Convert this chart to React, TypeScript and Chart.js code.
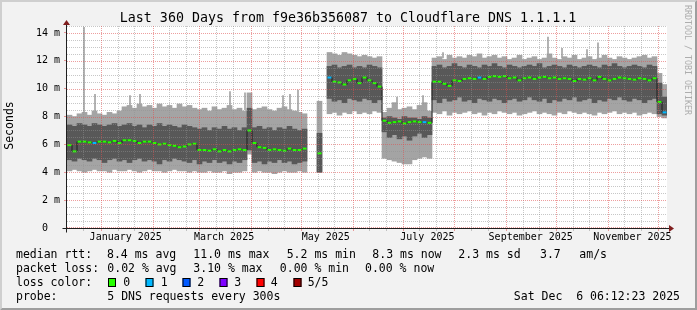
import React, { useEffect, useRef } from "react";
import { Chart, registerables } from "chart.js";

Chart.register(...registerables);

// ---------------- data ----------------
const BIN_DAYS = 3; // each bin spans 3 days, 120 bins over 360 days

// lowest ping (outer smoke, lower edge)
const outerLow = [
  4.1, 4.2, 4.1, 4.0, 4.1, 4.2, 4.1, 4.1, 4.0, 4.2, 4.1, 4.1, 4.2,
  4.1, 4.0, 4.1, 4.2, 4.1, 4.1, 4.0, 4.1, 4.2, 4.1, 4.1, 4.0, 4.1,
  4.0, 4.0, 4.1, 4.0, 4.0, 4.1, 3.9, 4.0, 4.0, 4.1, 5.3,
  4.0, 4.1, 4.0, 4.0, 3.9, 4.0, 4.1, 4.0, 4.0, 4.1, 4.0,
  null, null, 4.0, null,
  8.2, 8.3, 8.1, 8.3, 8.2, 8.4, 8.2, 8.3, 8.2, 8.4, 8.3,
  5.0, 4.9, 4.8, 4.7, 4.6, 4.6, 4.9, 5.0, 5.1, 5.0,
  8.3, 8.2, 8.4, 8.1, 8.3, 8.2, 8.3, 8.4, 8.2, 8.3, 8.1, 8.3, 8.2, 8.4, 8.3,
  8.2, 8.3, 8.1, 8.2, 8.3, 8.4, 8.2, 8.3, 8.2, 8.1, 8.3, 8.2, 8.4, 8.3, 8.2,
  8.3, 8.2, 8.1, 8.3, 8.2, 8.3, 8.4, 8.2, 8.3, 8.2, 8.3, 8.1, 8.2, 8.3, 8.2,
  8.0, 7.9,
];

// second ping (inner smoke, lower edge)
const innerLow = [
  4.9, 4.8, 5.0, 4.9, 4.8, 5.0, 4.9, 4.7, 4.9, 5.0, 4.8, 4.9, 4.7,
  4.9, 5.0, 4.8, 4.9, 4.8, 4.6, 4.9, 4.8, 5.0, 4.9, 4.8, 4.7, 4.9,
  4.6, 4.8, 4.7, 4.9, 4.7, 4.8, 4.6, 4.8, 4.7, 4.9, 5.6,
  4.7, 4.8, 4.6, 4.8, 4.7, 4.9, 4.7, 4.8, 4.6, 4.7, 4.8,
  null, null, 4.0, null,
  9.3, 9.1, 9.2, 9.0, 9.3, 9.2, 9.1, 9.3, 9.2, 9.0, 9.2,
  6.9, 6.5, 6.7, 6.4, 6.6, 6.3, 6.6, 6.8, 6.5, 6.7,
  9.2, 9.0, 9.3, 9.1, 9.2, 9.4, 9.1, 9.2, 9.0, 9.3, 9.2, 9.1, 9.3, 9.2, 9.0,
  9.2, 9.3, 9.1, 9.2, 9.4, 9.2, 9.1, 9.3, 9.0, 9.2, 9.1, 9.3, 9.2, 9.4, 9.1,
  9.2, 9.3, 9.0, 9.2, 9.1, 9.3, 9.2, 9.4, 9.2, 9.1, 9.3, 9.2, 9.0, 9.2, 9.3,
  8.2, 8.1,
];

// median rtt
const medianRtt = [
  5.95, 5.5, 6.2, 6.2, 6.15, 6.1, 6.2, 6.2, 6.15, 6.25, 6.1, 6.3, 6.3,
  6.25, 6.1, 6.2, 6.2, 6.1, 6.0, 6.05, 5.95, 5.9, 5.8, 5.85, 6.0, 6.05,
  5.6, 5.6, 5.55, 5.65, 5.5, 5.6, 5.5, 5.6, 5.65, 5.6, 7.0,
  6.1, 5.8, 5.75, 5.6, 5.65, 5.6, 5.55, 5.7, 5.6, 5.6, 5.7,
  null, null, 5.36, null,
  10.8, 10.5, 10.45, 10.3, 10.6, 10.7, 10.4, 10.8, 10.6, 10.4, 10.15,
  7.7, 7.55, 7.6, 7.65, 7.5, 7.6, 7.65, 7.6, 7.6, 7.55,
  10.5, 10.5, 10.35, 10.2, 10.6, 10.55, 10.7, 10.75, 10.7, 10.8, 10.7, 10.85, 10.9, 10.85, 10.9,
  10.75, 10.8, 10.6, 10.75, 10.8, 10.7, 10.8, 10.85, 10.75, 10.8, 10.7, 10.75, 10.7, 10.55, 10.7,
  10.65, 10.75, 10.6, 10.85, 10.7, 10.6, 10.7, 10.8, 10.75, 10.7, 10.65, 10.75, 10.7, 10.6, 10.75,
  9.05, 8.3,
];

// fourth ping (inner smoke, upper edge)
const innerHigh = [
  7.4, 7.3, 7.5, 7.4, 7.3, 7.5, 7.4, 7.3, 7.4, 7.5, 7.3, 7.4, 7.5,
  7.3, 7.4, 7.2, 7.4, 7.3, 7.5, 7.3, 7.4, 7.3, 7.2, 7.4, 7.3, 7.2,
  7.1, 7.2, 7.0, 7.2, 7.1, 7.3, 7.1, 7.2, 7.0, 7.2, 8.6,
  7.2, 7.3, 7.1, 7.2, 7.0, 7.2, 7.1, 7.3, 7.1, 7.0, 7.1,
  null, null, 6.8, null,
  11.6, 11.7, 11.5, 11.6, 11.7, 11.5, 11.6, 11.5, 11.7, 11.6, 11.5,
  7.9, 8.0, 7.9, 7.8, 8.0, 7.9, 7.9, 7.8, 8.0, 7.9,
  11.6, 11.7, 11.5, 11.6, 11.8, 11.6, 11.5, 11.7, 11.6, 11.5, 11.7, 11.6, 11.8, 11.6, 11.5,
  11.7, 11.6, 11.5, 11.6, 11.7, 11.6, 11.8, 11.5, 11.6, 11.7, 11.6, 11.5, 11.7, 11.6, 11.5,
  11.6, 11.7, 11.6, 11.5, 11.7, 11.6, 11.8, 11.6, 11.5, 11.6, 11.7, 11.6, 11.5, 11.7, 11.6,
  10.4, 9.4,
];

// highest ping (outer smoke, upper edge)
const outerHigh = [
  8.1, 8.0, 8.2, 8.3, 8.1, 8.4, 8.2, 8.1, 8.3, 8.2, 8.4, 8.7, 8.8,
  8.6, 8.9, 8.7, 8.8, 8.6, 8.9, 8.7, 8.8, 8.6, 8.9, 8.7, 8.8, 8.6,
  8.5, 8.6, 8.4, 8.7, 8.5, 8.6, 8.8, 8.5, 8.6, 8.4, 9.7,
  8.5, 8.6, 8.7, 8.5, 8.4, 8.6, 8.7, 8.5, 8.4, 8.3, 8.2,
  null, null, 9.1, null,
  12.6, 12.5, 12.4, 12.6, 12.5, 12.4, 12.3, 12.4, 12.3, 12.2, 12.3,
  8.3, 8.6, 9.0, 8.5, 8.6, 8.7, 8.5, 8.8, 9.0, 8.4,
  12.2, 12.3, 12.1, 12.4, 12.2, 12.3, 12.2, 12.4, 12.3, 12.5, 12.2, 12.3, 12.4, 12.2, 12.3,
  12.1, 12.2, 12.4, 12.1, 12.2, 12.3, 12.1, 12.2, 12.5, 12.2, 12.1, 12.3, 12.2, 12.4, 12.1,
  12.2, 12.3, 12.1, 12.2, 12.4, 12.2, 12.1, 12.3, 12.2, 12.1, 12.2, 12.3, 12.4, 12.2, 12.3,
  11.1, 10.3,
];

// bins where some requests were lost (index -> number lost)
const lossBins = [5, 52, 71, 82, 119];
const lossCounts = [1, 1, 1, 1, 1];

// single-sample spikes of the highest ping (day offset from start)
const peakDays = [10.2, 16.8, 37.8, 43.8, 97.8, 106.8, 129.6, 133.8, 138.6, 198.0, 213.6, 225.6, 288.6, 297.0, 312.0, 318.6];
const peakLow = [8.0, 8.2, 8.6, 8.6, 8.5, 8.5, 8.5, 8.5, 8.3, 8.5, 8.5, 12.2, 12.2, 12.2, 12.2, 12.2];
const peakHigh = [14.4, 9.6, 9.5, 9.6, 9.8, 9.7, 9.5, 9.6, 9.9, 9.4, 9.5, 12.6, 13.7, 12.9, 12.8, 13.3];

// axis labels
const xLabelTexts = ["January 2025", "March 2025", "May 2025", "July 2025", "September 2025", "November 2025"];
const xLabelMonths = [[2025, 0], [2025, 2], [2025, 4], [2025, 6], [2025, 8], [2025, 10]];
const yMajorTicks = [0, 2, 4, 6, 8, 10, 12, 14];
const yMajorLabels = ["0  ", "2 m", "4 m", "6 m", "8 m", "10 m", "12 m", "14 m"];
const Y_MAX = 14.5;
const Y_MINOR_STEP = 0.5;

// legend
const lossLegendLabels = ["0", "1", "2", "3", "4", "5/5"];
const lossColors = ["#26ff00", "#00b8ff", "#0059ff", "#7e00ff", "#ff0000", "#a10000"];
const rttStats = ["8.4 ms avg", "11.0 ms max", "5.2 ms min", "8.3 ms now", "2.3 ms sd", "3.7", "am/s"];
const lossStats = ["0.02 % avg", "3.10 % max", "0.00 % min", "0.00 % now"];
const TITLE = "Last 360 Days from f9e36b356087 to Cloudflare DNS 1.1.1.1";
const Y_TITLE = "Seconds";
const WATERMARK = "RRDTOOL / TOBI OETIKER";
const PROBE_TEXT = "5 DNS requests every 300s";
const STAMP = "Sat Dec  6 06:12:23 2025";

// ---------------- layout / style ----------------
const W = 697;
const H = 310;
const MONO = '"DejaVu Sans Mono", "Liberation Mono", monospace';
const rttX = [107, 193.3, 286.7, 372.3, 458.3, 540, 579.3];
const lossX = [107.3, 193.3, 279.8, 365];
const boxX = [108, 145.5, 182.5, 219.5, 256.5, 293.5];
const boxLabelX = [123.3, 160.7, 197.3, 234.3, 270.7, 307.7];
const GRID_MAJOR = "rgba(222,79,79,0.55)";
const GRID_MINOR = "rgba(143,143,143,0.5)";
const NONE = "rgba(0,0,0,0)";

const START = Date.UTC(2024, 11, 11, 6, 12, 23);
const dayOf = (y: number, m: number, d: number, h = 0) => (Date.UTC(y, m, d, h) - START) / 86400000;
const binDay = (i: number) => BIN_DAYS * (i + 0.5);

function buildXTicks() {
  const t: any[] = [];
  for (let k = 0; k <= 12; k++) {
    const y = 2024 + Math.floor((11 + k) / 12);
    const m = (11 + k) % 12;
    t.push({ value: dayOf(y, m, 1), kind: "major", text: "" });
    t.push({ value: dayOf(y, m, 11), kind: "minor", text: "" });
    t.push({ value: dayOf(y, m, 21), kind: "minor", text: "" });
  }
  xLabelMonths.forEach(([y, m], i) => {
    t.push({ value: dayOf(y, m, 15, 12), kind: "label", text: xLabelTexts[i] });
  });
  return t.filter((o) => o.value > 0 && o.value < 360).sort((a, b) => a.value - b.value);
}

function buildYTicks() {
  const t: any[] = [];
  for (let v = 0; v <= Y_MAX + 1e-9; v += Y_MINOR_STEP) {
    const idx = yMajorTicks.indexOf(v);
    t.push({ value: v, kind: idx >= 0 ? "major" : "minor", text: idx >= 0 ? yMajorLabels[idx] : "" });
  }
  return t;
}

const kindColor = (k: string) => (k === "major" ? GRID_MAJOR : k === "minor" ? GRID_MINOR : NONE);
const tickMarkColor = (ctx: any) => kindColor(ctx.tick && ctx.tick.kind);
const majorOnly = (ctx: any) => (ctx.tick && ctx.tick.kind === "major" ? GRID_MAJOR : NONE);

const lossAt = (i: number) => {
  const j = lossBins.indexOf(i);
  return j >= 0 ? lossCounts[j] : 0;
};

function band(lo: (number | null)[], hi: (number | null)[]) {
  const out: any[] = [];
  lo.forEach((v, i) => {
    if (v != null && hi[i] != null) out.push({ x: binDay(i), y: [v, hi[i]] });
  });
  return out;
}

const rrdPlugin = {
  id: "rrdDecor",
  beforeDraw(chart: any) {
    const { ctx, chartArea: a } = chart;
    ctx.save();
    ctx.fillStyle = "#f2f2f2";
    ctx.fillRect(0, 0, W, H);
    ctx.fillStyle = "#ffffff";
    ctx.fillRect(a.left, a.top, a.right - a.left, a.bottom - a.top);
    ctx.fillStyle = "#cfcfcf";
    ctx.beginPath();
    ctx.moveTo(0, H); ctx.lineTo(2, H - 2); ctx.lineTo(2, 2); ctx.lineTo(W - 2, 2); ctx.lineTo(W, 0); ctx.lineTo(0, 0);
    ctx.closePath(); ctx.fill();
    ctx.fillStyle = "#9e9e9e";
    ctx.beginPath();
    ctx.moveTo(2, H - 2); ctx.lineTo(W - 2, H - 2); ctx.lineTo(W - 2, 2); ctx.lineTo(W, 0); ctx.lineTo(W, H); ctx.lineTo(0, H);
    ctx.closePath(); ctx.fill();
    ctx.restore();
  },
  afterDatasetsDraw(chart: any) {
    // dotted grid over the data (as rrdtool does), placed by the chart's own scales
    const { ctx, chartArea: a, scales } = chart;
    const top = Math.round(a.top);
    const bottom = Math.round(a.bottom);
    const left = Math.round(a.left);
    const right = Math.round(a.right);
    ctx.save();
    for (const pass of ["minor", "major"]) {
      ctx.fillStyle = kindColor(pass);
      scales.y.ticks.forEach((t: any) => {
        if (t.kind !== pass) return;
        const py = Math.min(bottom - 1, Math.round(scales.y.getPixelForValue(t.value)));
        for (let x = left; x < right; x += 2) ctx.fillRect(x, py, 1, 1);
      });
      scales.x.ticks.forEach((t: any) => {
        if (t.kind !== pass) return;
        const px = Math.floor(scales.x.getPixelForValue(t.value));
        for (let y = top; y < bottom; y += 2) ctx.fillRect(px, y, 1, 1);
      });
    }
    ctx.restore();
  },
  afterDraw(chart: any) {
    const { ctx, chartArea: a } = chart;
    ctx.save();
    // axes
    const x0 = a.left - 0.5;
    const y0 = a.bottom + 0.5;
    ctx.strokeStyle = "#1f1f1f";
    ctx.lineWidth = 1;
    ctx.beginPath();
    ctx.moveTo(x0 - 4, y0); ctx.lineTo(a.right + 3, y0);
    ctx.moveTo(x0, y0 + 4); ctx.lineTo(x0, a.top - 3);
    ctx.stroke();
    ctx.fillStyle = "#801f1f";
    ctx.beginPath();
    ctx.moveTo(a.right + 2, y0 - 3.5); ctx.lineTo(a.right + 2, y0 + 3.5); ctx.lineTo(a.right + 7, y0);
    ctx.closePath(); ctx.fill();
    ctx.beginPath();
    ctx.moveTo(x0 - 3.5, a.top - 1); ctx.lineTo(x0 + 3.5, a.top - 1); ctx.lineTo(x0, a.top - 6);
    ctx.closePath(); ctx.fill();

    // title
    ctx.fillStyle = "#000";
    ctx.textBaseline = "alphabetic";
    ctx.textAlign = "center";
    ctx.font = `13.3px ${MONO}`;
    ctx.fillText(TITLE, 348, 22);

    // y title
    ctx.save();
    ctx.font = `11.5px ${MONO}`;
    ctx.translate(10, 125.5);
    ctx.rotate(-Math.PI / 2);
    ctx.textBaseline = "middle";
    ctx.fillText(Y_TITLE, 0, 0);
    ctx.restore();

    // watermark
    ctx.save();
    ctx.font = `8.3px ${MONO}`;
    ctx.fillStyle = "#adadad";
    ctx.translate(687, 5);
    ctx.rotate(Math.PI / 2);
    ctx.textAlign = "left";
    ctx.textBaseline = "middle";
    ctx.fillText(WATERMARK, 0, 0);
    ctx.restore();

    // legend
    ctx.font = `11.5px ${MONO}`;
    ctx.textAlign = "left";
    ctx.textBaseline = "alphabetic";
    ctx.fillStyle = "#000";
    ctx.fillText("median rtt:", 16, 258);
    rttStats.forEach((s, i) => ctx.fillText(s, rttX[i], 258));
    ctx.fillText("packet loss:", 16, 272);
    lossStats.forEach((s, i) => ctx.fillText(s, lossX[i], 272));
    ctx.fillText("loss color:", 16, 286);
    lossLegendLabels.forEach((s, i) => {
      ctx.fillStyle = lossColors[i];
      ctx.fillRect(boxX[i], 278, 8, 9);
      ctx.strokeStyle = "#000";
      ctx.strokeRect(boxX[i] + 0.5, 278.5, 7, 8);
      ctx.fillStyle = "#000";
      ctx.fillText(s, boxLabelX[i], 286);
    });
    ctx.fillText("probe:", 16, 300);
    ctx.fillText(PROBE_TEXT, 107.3, 300);
    ctx.textAlign = "right";
    ctx.fillText(STAMP, 680, 300);
    ctx.restore();
  },
};

export default function App() {
  const ref = useRef<HTMLCanvasElement | null>(null);

  useEffect(() => {
    document.body.style.margin = "0";
    const canvas = ref.current;
    if (!canvas) return;
    const xTicks = buildXTicks();
    const yTicks = buildYTicks();

    const medianLine = medianRtt.map((v, i) => ({ x: binDay(i), y: v }));
    const medianPts: any[] = [];
    medianRtt.forEach((v, i) => {
      if (v != null) medianPts.push({ x: binDay(i), y: v, loss: lossAt(i) });
    });

    const chart = new Chart(canvas, {
      type: "bar",
      data: {
        datasets: [
          {
            type: "bar",
            label: "outer smoke",
            data: band(outerLow, outerHigh),
            backgroundColor: "#a4a4a4",
            grouped: false,
            barPercentage: 1,
            categoryPercentage: 1,
            order: 5,
          } as any,
          {
            type: "bar",
            label: "spikes",
            xAxisID: "xp",
            data: peakDays.map((d, i) => ({ x: d, y: [peakLow[i], peakHigh[i]] })),
            backgroundColor: "#a4a4a4",
            grouped: false,
            maxBarThickness: 1,
            barPercentage: 1,
            categoryPercentage: 1,
            order: 4,
          } as any,
          {
            type: "bar",
            label: "inner smoke",
            data: band(innerLow, innerHigh),
            backgroundColor: "#585858",
            grouped: false,
            barPercentage: 1,
            categoryPercentage: 1,
            order: 3,
          } as any,
          {
            type: "line",
            label: "median path",
            data: medianLine,
            borderColor: "#1e1e1e",
            borderWidth: 1,
            pointRadius: 0,
            stepped: "middle",
            spanGaps: false,
            order: 2,
          } as any,
          {
            type: "line",
            label: "median",
            data: medianPts,
            showLine: false,
            pointStyle: "line",
            pointRadius: 2,
            pointHoverRadius: 0,
            pointBorderWidth: 2,
            pointBorderColor: (c: any) => lossColors[(c.raw && c.raw.loss) || 0],
            pointBackgroundColor: (c: any) => lossColors[(c.raw && c.raw.loss) || 0],
            order: 1,
          } as any,
        ],
      },
      options: {
        responsive: false,
        maintainAspectRatio: false,
        devicePixelRatio: 1,
        animation: false,
        events: [],
        layout: { padding: { top: 26, right: 30, bottom: 0, left: 0 }, autoPadding: false },
        plugins: { legend: { display: false }, tooltip: { enabled: false }, title: { display: false } },
        scales: {
          x: {
            type: "linear",
            min: 0,
            max: 360,
            offset: false,
            afterBuildTicks: (s: any) => {
              s.ticks = xTicks.map((t) => ({ ...t }));
            },
            afterFit: (s: any) => {
              s.height = H - 228;
            },
            grid: {
              offset: false,
              drawOnChartArea: false,
              tickColor: tickMarkColor,
              color: NONE,
              lineWidth: 1,
              tickLength: 3,
              drawTicks: true,
            },
            border: { display: false },
            ticks: {
              autoSkip: false,
              maxRotation: 0,
              minRotation: 0,
              padding: 0,
              color: "#000",
              font: { family: MONO, size: 10 },
              callback: (_v: any, i: number, ticks: any[]) => ticks[i].text || "",
            },
          },
          xp: {
            type: "linear",
            display: false,
            min: 0,
            max: 360,
            offset: false,
            grid: { offset: false },
          },
          y: {
            type: "linear",
            min: 0,
            max: Y_MAX,
            afterBuildTicks: (s: any) => {
              s.ticks = yTicks.map((t) => ({ ...t }));
            },
            afterFit: (s: any) => {
              s.width = 67;
            },
            grid: {
              drawOnChartArea: false,
              color: NONE,
              tickColor: majorOnly,
              lineWidth: 1,
              tickLength: 3,
              drawTicks: true,
            },
            border: { display: false },
            ticks: {
              autoSkip: false,
              padding: 4,
              color: "#000",
              font: { family: MONO, size: 10 },
              callback: (_v: any, i: number, ticks: any[]) => ticks[i].text || "",
            },
          },
        },
      } as any,
      plugins: [rrdPlugin as any],
    });
    return () => chart.destroy();
  }, []);

  return (
    <div style={{ width: W, height: H }}>
      <canvas ref={ref} width={W} height={H} style={{ display: "block", width: W, height: H }} />
    </div>
  );
}
